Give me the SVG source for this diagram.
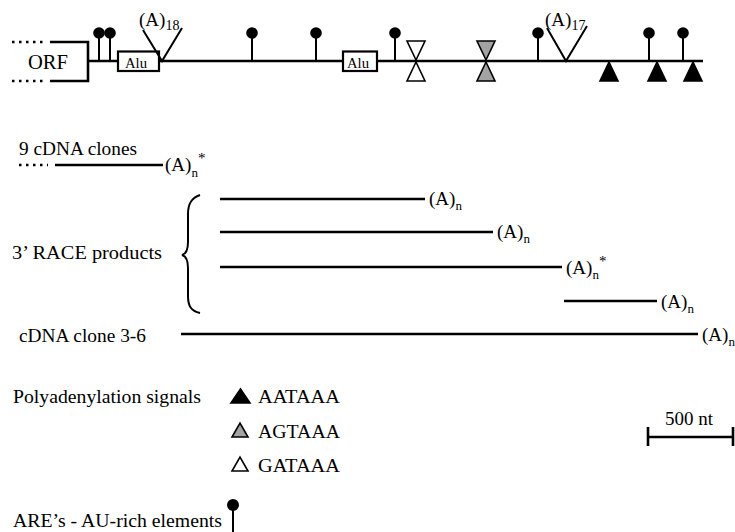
<svg xmlns="http://www.w3.org/2000/svg" width="735" height="532" viewBox="0 0 735 532" font-family="'Liberation Serif', 'Times New Roman', 'DejaVu Serif', serif">
<style>
text{font-family:'Liberation Serif','Times New Roman','DejaVu Serif',serif;fill:#000}
.lbl{font-size:19px}
.sub{font-size:13px}
.ln{stroke:#000;stroke-width:2.6;fill:none}
.thin{stroke:#000;stroke-width:2;fill:none}
.dots{stroke:#000;stroke-width:2.4;stroke-dasharray:2.5 4.5;fill:none}
.tri{stroke:#000;stroke-width:1.6}
.blk{fill:#000}
.gry{fill:#a3a3a3}
.wht{fill:#fff}
</style>
<defs>
<g id="are">
<line x1="0" y1="-23" x2="0" y2="0" stroke="#000" stroke-width="2"/>
<circle cx="0" cy="-28" r="5.8" fill="#000"/>
</g>
<polygon id="up" points="-9,20 9,20 0,1"/>
<polygon id="down" points="-9,-20 9,-20 0,-1"/>
</defs>
<rect width="735" height="532" fill="#fff"/>

<g id="map">
<g id="orf">
<path class="dots" d="M12,42 H45 M12,81 H45"/>
<path class="ln" d="M50,42 H88 V81 H50"/>
<text x="28" y="69" font-size="22" textLength="40" lengthAdjust="spacingAndGlyphs">ORF</text>
</g>
<line id="mainline" class="ln" x1="88" y1="61" x2="703" y2="61"/>
<g id="alu1">
<rect x="118" y="51.5" width="41" height="19.5" fill="#fff" stroke="#000" stroke-width="2.2"/>
<text x="125" y="68" font-size="15" textLength="22" lengthAdjust="spacingAndGlyphs">Alu</text>
</g>
<g id="alu2">
<rect x="343" y="51.5" width="34" height="19.5" fill="#fff" stroke="#000" stroke-width="2.2"/>
<text x="347" y="68" font-size="15" textLength="22" lengthAdjust="spacingAndGlyphs">Alu</text>
</g>
<g id="polyA18">
<polyline class="thin" points="143,30 162,61 182,28"/>
<text x="139" y="26" class="lbl">(A)<tspan font-size="14" dy="4">18</tspan></text>
</g>
<g id="polyA17">
<polyline class="thin" points="547,28 566,61 587,26"/>
<text x="545" y="26" class="lbl">(A)<tspan font-size="14" dy="4">17</tspan></text>
</g>
<g id="ares">
<use href="#are" x="99" y="61"/>
<use href="#are" x="110" y="61"/>
<use href="#are" x="252" y="61"/>
<use href="#are" x="316" y="61"/>
<use href="#are" x="395" y="61"/>
<use href="#are" x="538" y="61"/>
<use href="#are" x="649" y="61"/>
<use href="#are" x="683" y="61"/>
</g>
<g id="signals">
<use href="#down" x="416" y="61" class="tri wht"/>
<use href="#up" x="416" y="61" class="tri wht"/>
<use href="#down" x="486" y="61" class="tri gry"/>
<use href="#up" x="486" y="61" class="tri gry"/>
<use href="#up" x="609" y="61" class="tri blk"/>
<use href="#up" x="657" y="61" class="tri blk"/>
<use href="#up" x="693" y="61" class="tri blk"/>
</g>
</g>

<g id="clones9">
<text x="19" y="155" class="lbl" textLength="118" lengthAdjust="spacingAndGlyphs">9 cDNA clones</text>
<line class="dots" x1="19" y1="165" x2="48" y2="165"/>
<line class="ln" x1="55" y1="165" x2="163" y2="165"/>
<text x="165" y="171" class="lbl">(A)<tspan class="sub" dy="6">n</tspan><tspan font-size="15" dx="0" dy="-14">*</tspan></text>
</g>

<g id="race">
<text x="12" y="259" class="lbl" textLength="150" lengthAdjust="spacingAndGlyphs">3’ RACE products</text>
<path class="thin" d="M200,195 C191,198 188,204 188,214 V242 C188,250 186,254 182,255 C186,256 188,260 188,268 V296 C188,306 191,311 200,313"/>
<line class="ln" x1="220" y1="199" x2="425" y2="199"/>
<text x="429" y="205" class="lbl">(A)<tspan class="sub" dy="5">n</tspan></text>
<line class="ln" x1="220" y1="232" x2="493" y2="232"/>
<text x="497" y="238" class="lbl">(A)<tspan class="sub" dy="5">n</tspan></text>
<line class="ln" x1="220" y1="267" x2="562" y2="267"/>
<text x="566" y="274" class="lbl">(A)<tspan class="sub" dy="5">n</tspan><tspan font-size="15" dx="0" dy="-13">*</tspan></text>
<line class="ln" x1="564" y1="301" x2="657" y2="301"/>
<text x="661" y="308" class="lbl">(A)<tspan class="sub" dy="5">n</tspan></text>
</g>

<g id="clone36">
<text x="19" y="342" class="lbl" textLength="127" lengthAdjust="spacingAndGlyphs">cDNA clone 3-6</text>
<line class="ln" x1="181" y1="334" x2="698" y2="334"/>
<text x="702" y="341" class="lbl">(A)<tspan class="sub" dy="5">n</tspan></text>
</g>

<g id="legend">
<text x="13" y="403" class="lbl" textLength="188" lengthAdjust="spacingAndGlyphs">Polyadenylation signals</text>
<polygon class="tri blk" points="231,403 250,403 240.5,389"/>
<text x="258" y="403" class="lbl" textLength="82" lengthAdjust="spacingAndGlyphs">AATAAA</text>
<polygon class="tri gry" points="232,437 248,437 240,423"/>
<text x="258" y="438" class="lbl" textLength="82" lengthAdjust="spacingAndGlyphs">AGTAAA</text>
<polygon class="tri wht" points="232,471 248,471 240,457"/>
<text x="258" y="472" class="lbl" textLength="82" lengthAdjust="spacingAndGlyphs">GATAAA</text>
<text x="13" y="527" class="lbl" textLength="209" lengthAdjust="spacingAndGlyphs">ARE’s - AU-rich elements</text>
<line x1="233" y1="508" x2="233" y2="532" stroke="#000" stroke-width="2"/>
<circle cx="233" cy="505" r="6" fill="#000"/>
</g>

<g id="scalebar">
<text x="665" y="425" class="lbl" textLength="48" lengthAdjust="spacingAndGlyphs">500 nt</text>
<path class="ln" d="M648,437 H733 M648,427 V446 M733,427 V446"/>
</g>
</svg>
